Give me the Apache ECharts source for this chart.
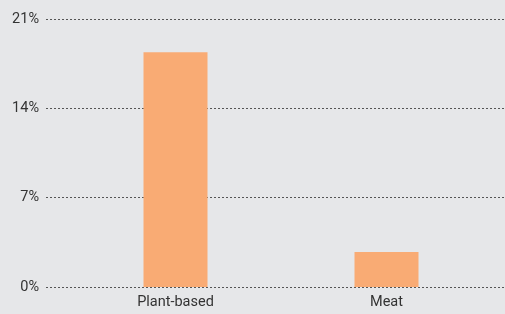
<!DOCTYPE html>
<html>
<head>
<meta charset="utf-8">
<script src="https://cdn.jsdelivr.net/npm/echarts@6/dist/echarts.min.js"></script>
<style>
  html, body { margin: 0; padding: 0; background: #e6e7e9; }
  #main { width: 505px; height: 314px; }
</style>
</head>
<body>
<div id="main"></div>
<script>
// diet type vs share
const categories = ['Plant-based', 'Meat'];
const values = [18.4, 2.75];
const yTicks = [0, 7, 14, 21];

const font = 'Roboto, "Liberation Sans", sans-serif';
const chart = echarts.init(document.getElementById('main'));

chart.setOption({
  backgroundColor: '#e6e7e9',
  animation: false,
  grid: [
    // gridlines + y labels
    { left: 46, right: 0, top: 19, bottom: 27 },
    // bars
    { left: 70, right: 13, top: 19, bottom: 27 }
  ],
  xAxis: [
    { gridIndex: 0, type: 'value', show: false },
    {
      gridIndex: 1,
      type: 'category',
      data: categories,
      axisLine: { show: false },
      axisTick: { show: false },
      axisLabel: { color: '#333', fontSize: 14.5, fontFamily: font, margin: 8 }
    }
  ],
  yAxis: [
    {
      gridIndex: 0,
      type: 'value',
      min: yTicks[0],
      max: yTicks[yTicks.length - 1],
      interval: 7,
      axisLine: { show: false },
      axisTick: { show: false },
      axisLabel: { color: '#333', fontSize: 14.5, fontFamily: font, margin: 7, formatter: '{value}%' },
      splitLine: { lineStyle: { color: '#555', type: [2, 2], width: 1 } }
    },
    {
      gridIndex: 1,
      type: 'value',
      min: yTicks[0],
      max: yTicks[yTicks.length - 1],
      show: false
    }
  ],
  series: [{
    type: 'bar',
    xAxisIndex: 1,
    yAxisIndex: 1,
    data: values,
    barWidth: 64,
    itemStyle: { color: '#f9ab74' }
  }]
});
</script>
</body>
</html>
